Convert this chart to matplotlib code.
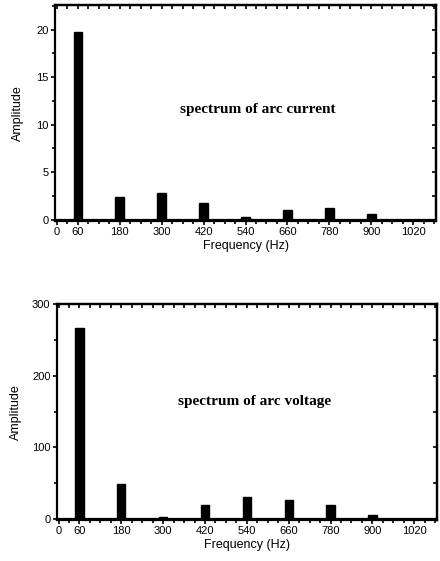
import numpy as np
from matplotlib import pyplot as plt

# harmonic frequencies (Hz) and amplitudes
freqs = [60, 180, 300, 420, 540, 660, 780, 900]
current_amp = [19.8, 2.4, 2.8, 1.75, 0.3, 1.0, 1.2, 0.55]
voltage_amp = [267, 49, 3, 19, 30, 27, 20, 6]

xtick_pos = [0, 60, 180, 300, 420, 540, 660, 780, 900, 1020]
xtick_lab = [str(v) for v in xtick_pos]

plt.rcParams['font.family'] = ['Liberation Sans', 'DejaVu Sans']

fig = plt.figure(figsize=(4.4, 5.61), dpi=100)


def spectrum(ax, amps, ymax, ymaj, ymin_step, text, text_xy, y0, ylpad):
    ax.bar(freqs, amps, width=24, color='black', edgecolor='black', linewidth=1.0)
    ax.axhline(0, color='black', lw=1.6, zorder=3)
    ax.set_xlim(-5, 1085)
    ax.set_ylim(y0, ymax)
    ax.set_xticks(xtick_pos)
    ax.set_xticklabels(xtick_lab)
    ax.set_xticks(np.arange(0, 1081, 30), minor=True)
    ax.set_yticks(np.arange(0, ymax + 1e-6, ymaj))
    ax.set_yticks(np.arange(0, ymax + 1e-6, ymin_step), minor=True)
    ax.tick_params(which='major', direction='out', length=3, width=1.2, labelsize=8, pad=1.5)
    ax.tick_params(which='minor', direction='out', length=2.5, width=1.2)
    for s in ax.spines.values():
        s.set_linewidth(1.6)
    # inward ticks on top and right frame
    top = ax.secondary_xaxis('top')
    top.set_xticks(np.arange(0, 1081, 30))
    top.tick_params(direction='in', length=3, width=1.2, labeltop=False)
    top.spines['top'].set_linewidth(1.6)
    right = ax.secondary_yaxis('right')
    right.set_yticks(np.arange(0, ymax + 1e-6, ymin_step))
    right.tick_params(direction='in', length=3, width=1.2, labelright=False)
    right.spines['right'].set_linewidth(1.6)
    ax.set_xlabel('Frequency (Hz)', fontsize=9, labelpad=2)
    ax.set_ylabel('Amplitude', fontsize=9, labelpad=ylpad)
    ax.text(text_xy[0], text_xy[1], text, ha='center', va='center',
            fontsize=11, fontweight='bold', family=['Liberation Serif', 'DejaVu Serif'])


ax1 = fig.add_axes([0.125, 0.606, 0.866, 0.385])
spectrum(ax1, current_amp, 22.6, 5, 2.5, 'spectrum of arc current', (576, 11.6), -0.15, 9)

ax2 = fig.add_axes([0.129, 0.073, 0.864, 0.385])
spectrum(ax2, voltage_amp, 300, 100, 50, 'spectrum of arc voltage', (563, 164), -1.5, 7)

fig.savefig('out.png', dpi=100)
